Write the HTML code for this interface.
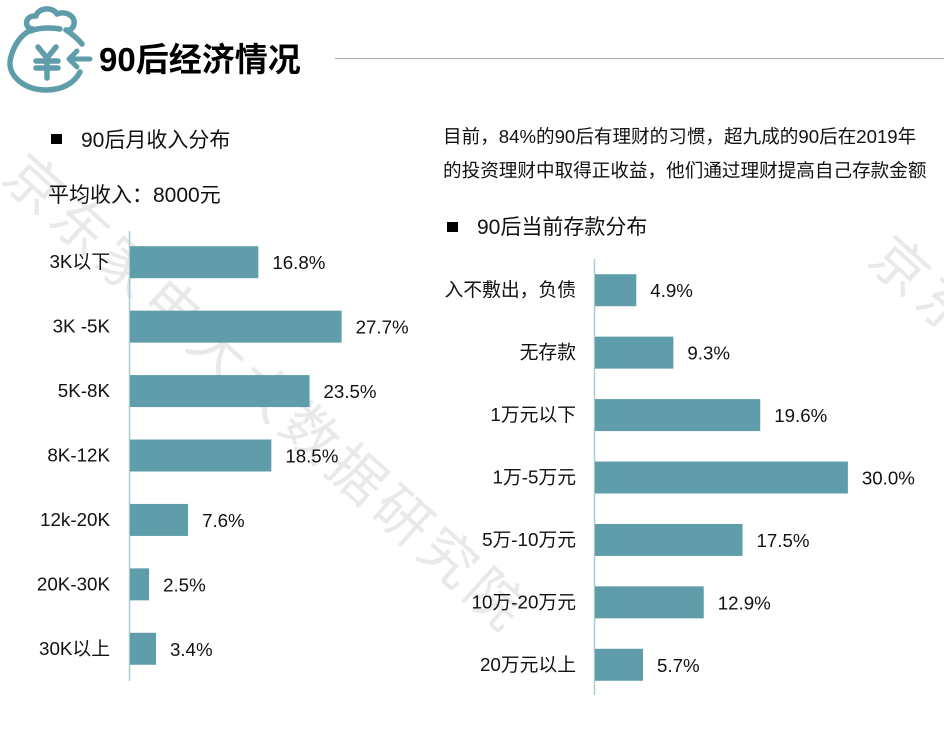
<!DOCTYPE html>
<html lang="zh-CN">
<head>
<meta charset="utf-8">
<title>90后经济情况</title>
<style>
html,body{margin:0;padding:0;background:#fff}
body{width:944px;height:734px;overflow:hidden;position:relative}
svg{position:absolute;left:0;top:0}
text{font-family:"Liberation Sans","Noto Sans CJK SC",sans-serif;fill:#111}
</style>
</head>
<body>
<svg id="page" width="944" height="734" viewBox="0 0 944 734" xmlns="http://www.w3.org/2000/svg">
  <g>
    <text transform="translate(0,180) rotate(42)" font-size="56" letter-spacing="6" style="fill:#e9e9e9">京东家电大大数据研究院</text>
    <text transform="translate(866,262) rotate(42)" font-size="56" letter-spacing="6" style="fill:#e9e9e9">京东</text>
  </g>
  <g fill="none" stroke="#5f9dab" stroke-width="5.5" stroke-linecap="round" stroke-linejoin="round">
    <path d="M33 29C24 29 24 15 36 16C38 8 52 6 57 14C66 10 78 17 73 27C72 29 68 31 66 30"/>
    <path d="M31 31C37 28 50 27 60 29"/>
    <path d="M29 31C12 41 10 62 10 62C9 76 24 90 46 90C61 90 74 84 80 72"/>
    <path d="M66 30C72 34 78 39 82 44"/>
    <path d="M38 47L47 58L56 47M47 58V78M36 61H58M36 68H58"/>
    <path d="M90 59H70M77 51L69 59L77 67" stroke-width="5"/>
  </g>
  <text x="99" y="71" font-size="33" font-weight="700" style="fill:#000">90后经济情况</text>
  <line x1="335" y1="58.5" x2="944" y2="58.5" stroke="#a9a9a9" stroke-width="1"/>

  <rect x="51" y="134" width="11" height="10" fill="#000"/>
  <text x="81" y="147" font-size="21">90后月收入分布</text>
  <text x="48" y="202" font-size="21">平均收入：8000元</text>

  <text x="443" y="143" font-size="18.6">目前，84%的90后有理财的习惯，超九成的90后在2019年</text>
  <text x="443" y="177" font-size="18.6">的投资理财中取得正收益，他们通过理财提高自己存款金额</text>

  <rect x="447" y="222" width="11" height="10" fill="#000"/>
  <text x="477" y="234" font-size="21">90后当前存款分布</text>

  <g id="income-chart"></g>
  <g id="savings-chart"></g>
</svg>
<script>
const incomeCategories = ['3K以下', '3K -5K', '5K-8K', '8K-12K', '12k-20K', '20K-30K', '30K以上'];
const incomeValues = [16.8, 27.7, 23.5, 18.5, 7.6, 2.5, 3.4];
const savingsCategories = ['入不敷出，负债', '无存款', '1万元以下', '1万-5万元', '5万-10万元', '10万-20万元', '20万元以上'];
const savingsValues = [4.9, 9.3, 19.6, 30.0, 17.5, 12.9, 5.7];

const NS = 'http://www.w3.org/2000/svg';
function make(tag, attrs, parent) {
  const el = document.createElementNS(NS, tag);
  for (const k in attrs) el.setAttribute(k, attrs[k]);
  parent.appendChild(el);
  return el;
}
function drawChart(target, cats, vals, cfg) {
  const g = document.getElementById(target);
  const xScale = v => cfg.x0 + v * cfg.pxPerUnit;
  const yBand = i => cfg.yTop + (i + 0.5) * (cfg.yBottom - cfg.yTop) / cats.length;

  const axis = make('line', {x1: cfg.x0 - 0.5, x2: cfg.x0 - 0.5, y1: cfg.axisTop, y2: cfg.axisBottom, stroke: '#a9ccd4', 'stroke-width': 1.5}, g);
  
  

  cats.forEach((cat, i) => {
    const cy = yBand(i);
    const bar = make('rect', {x: cfg.x0, y: cy - 16, width: xScale(vals[i]) - cfg.x0, height: 32, fill: '#5f9dab'}, g);
    
    

    const label = make('text', {x: cfg.x0 - cfg.labelGap, y: cy + 6, 'text-anchor': 'end', 'font-size': 18.8}, g);
    label.textContent = cat;
    
    

    const value = make('text', {x: xScale(vals[i]) + 14, y: cy + 7, 'font-size': 18.7}, g);
    value.textContent = vals[i].toFixed(1) + '%';
    
    
  });
}
drawChart('income-chart', incomeCategories, incomeValues, {x0: 130, pxPerUnit: 7.64, yTop: 230, yBottom: 681, axisTop: 231, axisBottom: 681, labelGap: 20});
drawChart('savings-chart', savingsCategories, savingsValues, {x0: 595, pxPerUnit: 8.43, yTop: 259, yBottom: 696, axisTop: 259, axisBottom: 695, labelGap: 19});
</script>
</body>
</html>
